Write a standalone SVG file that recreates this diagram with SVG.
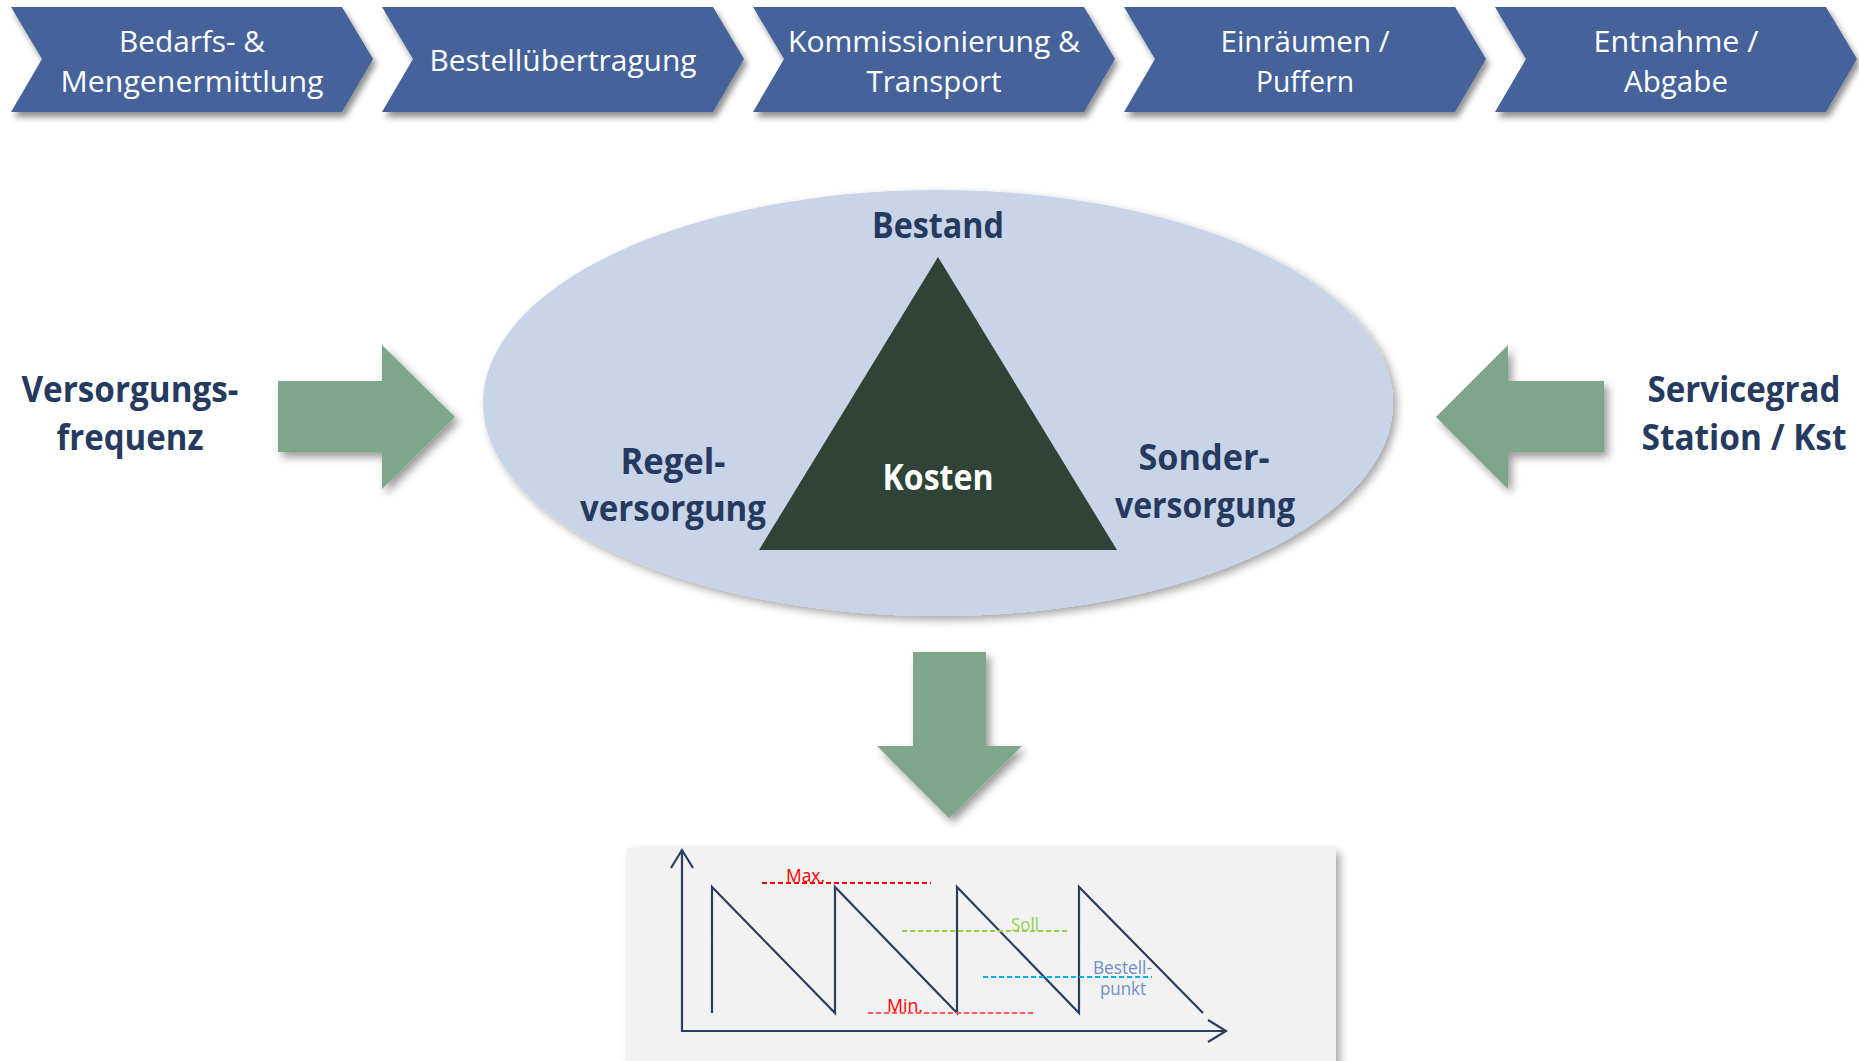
<svg xmlns="http://www.w3.org/2000/svg" width="1859" height="1061" viewBox="0 0 1859 1061">
<style>
.chev{fill:#44639A;filter:url(#sh)}
.ct{font-family:"Open Sans","Noto Sans",sans-serif;font-size:29px;fill:#FFFFFF;text-anchor:middle}
.bt{font-family:"Open Sans","Noto Sans",sans-serif;font-size:35px;font-weight:bold;fill:#253A5E;text-anchor:middle}
.blk{fill:#7FA68B;filter:url(#sh2)}
.ax{fill:none;stroke:#2C3E5E;stroke-width:2.2;stroke-linejoin:miter}
.dash{fill:none;stroke-width:2;stroke-dasharray:5 3}
.lb{font-family:"Open Sans","Noto Sans",sans-serif;font-size:18px}
</style>
<defs>
<filter id="sh" x="-10%" y="-20%" width="130%" height="150%">
<feDropShadow dx="3" dy="5" stdDeviation="3" flood-color="#000" flood-opacity="0.45"/>
</filter>
<filter id="sh2" x="-20%" y="-20%" width="150%" height="150%">
<feDropShadow dx="4" dy="5" stdDeviation="4" flood-color="#000" flood-opacity="0.4"/>
</filter>
<filter id="sh3" x="-10%" y="-10%" width="130%" height="130%">
<feDropShadow dx="4" dy="4" stdDeviation="4" flood-color="#000" flood-opacity="0.35"/>
</filter>
</defs>
<rect width="1859" height="1061" fill="#FFFFFF"/>

<g id="step1">
<polygon class="chev" points="11,7 342,7 373,59 342,112 11,112 42,59"/>
<text class="ct" x="192" y="52" textLength="146" lengthAdjust="spacingAndGlyphs">Bedarfs- &amp;</text>
<text class="ct" x="192" y="92" textLength="263" lengthAdjust="spacingAndGlyphs">Mengenermittlung</text>
</g>
<g id="step2">
<polygon class="chev" points="382,7 713,7 744,59 713,112 382,112 413,59"/>
<text class="ct" x="563" y="71" textLength="267" lengthAdjust="spacingAndGlyphs">Bestellübertragung</text>
</g>
<g id="step3">
<polygon class="chev" points="753,7 1084,7 1115,59 1084,112 753,112 784,59"/>
<text class="ct" x="934" y="52" textLength="292" lengthAdjust="spacingAndGlyphs">Kommissionierung &amp;</text>
<text class="ct" x="934" y="92" textLength="135" lengthAdjust="spacingAndGlyphs">Transport</text>
</g>
<g id="step4">
<polygon class="chev" points="1124,7 1455,7 1486,59 1455,112 1124,112 1155,59"/>
<text class="ct" x="1305" y="52" textLength="169" lengthAdjust="spacingAndGlyphs">Einräumen /</text>
<text class="ct" x="1305" y="92" textLength="98" lengthAdjust="spacingAndGlyphs">Puffern</text>
</g>
<g id="step5">
<polygon class="chev" points="1495,7 1826,7 1857,59 1826,112 1495,112 1526,59"/>
<text class="ct" x="1676" y="52" textLength="165" lengthAdjust="spacingAndGlyphs">Entnahme /</text>
<text class="ct" x="1676" y="92" textLength="104" lengthAdjust="spacingAndGlyphs">Abgabe</text>
</g>

<g id="ellipse">
<ellipse cx="938" cy="403" rx="455" ry="213" fill="#C8D4E7" filter="url(#sh3)"/>
<text class="bt" x="938" y="238" textLength="132" lengthAdjust="spacingAndGlyphs">Bestand</text>
<text class="bt" x="673" y="474" textLength="105" lengthAdjust="spacingAndGlyphs">Regel-</text>
<text class="bt" x="673" y="521" textLength="186" lengthAdjust="spacingAndGlyphs">versorgung</text>
<text class="bt" x="1204" y="470" textLength="131" lengthAdjust="spacingAndGlyphs">Sonder-</text>
<text class="bt" x="1205" y="518" textLength="180" lengthAdjust="spacingAndGlyphs">versorgung</text>
</g>
<g id="triangle">
<polygon points="938,257 759,550 1117,550" fill="#2F4336"/>
<text class="bt" x="938" y="490" style="fill:#FFFFFF" textLength="111" lengthAdjust="spacingAndGlyphs">Kosten</text>
</g>

<g id="versorgungsfrequenz">
<text class="bt" x="130" y="402" textLength="217" lengthAdjust="spacingAndGlyphs">Versorgungs-</text>
<text class="bt" x="130" y="450" textLength="147" lengthAdjust="spacingAndGlyphs">frequenz</text>
</g>
<g id="servicegrad">
<text class="bt" x="1744" y="402" textLength="193" lengthAdjust="spacingAndGlyphs">Servicegrad</text>
<text class="bt" x="1744" y="450" textLength="205" lengthAdjust="spacingAndGlyphs">Station / Kst</text>
</g>

<g id="connectors">
<polygon class="blk" points="278,381 382,381 382,345 455,417 382,489 382,452 278,452"/>
<polygon class="blk" points="1604,381 1508,381 1508,345 1436,417 1508,489 1508,452 1604,452"/>
<polygon class="blk" points="913,652 986,652 986,746 1022,746 949,818 877,746 913,746"/>
</g>

<g id="chart">
<rect x="627" y="848" width="709" height="220" fill="#F2F2F2" filter="url(#sh3)"/>
<polyline class="ax" points="671,868 682,850 693,868"/>
<polyline class="ax" points="682,850 682,1031 1226,1031"/>
<polyline class="ax" points="1208,1020 1226,1031 1208,1042"/>
<polyline class="ax" points="712,1013 712,887 835,1013 835,887 957,1013 957,887 1079,1013 1079,887 1203,1013"/>
<line class="dash" x1="762" y1="883" x2="931" y2="883" stroke="#FF0000"/>
<text class="lb" x="786" y="882" fill="#FF0000" textLength="39" lengthAdjust="spacingAndGlyphs">Max.</text>
<line class="dash" x1="902" y1="931" x2="1070" y2="931" stroke="#92D050"/>
<text class="lb" x="1011" y="931" fill="#92D050" textLength="28" lengthAdjust="spacingAndGlyphs">Soll</text>
<line class="dash" x1="983" y1="977" x2="1152" y2="977" stroke="#00B0F0"/>
<text class="lb" x="1093" y="974" fill="#6F8FC8" textLength="59" lengthAdjust="spacingAndGlyphs">Bestell-</text>
<text class="lb" x="1100" y="995" fill="#6F8FC8" textLength="46" lengthAdjust="spacingAndGlyphs">punkt</text>
<line class="dash" x1="868" y1="1013" x2="1035" y2="1013" stroke="#FF5B5B"/>
<text class="lb" x="887" y="1012" fill="#FF0000" textLength="36" lengthAdjust="spacingAndGlyphs">Min.</text>
</g>
</svg>
